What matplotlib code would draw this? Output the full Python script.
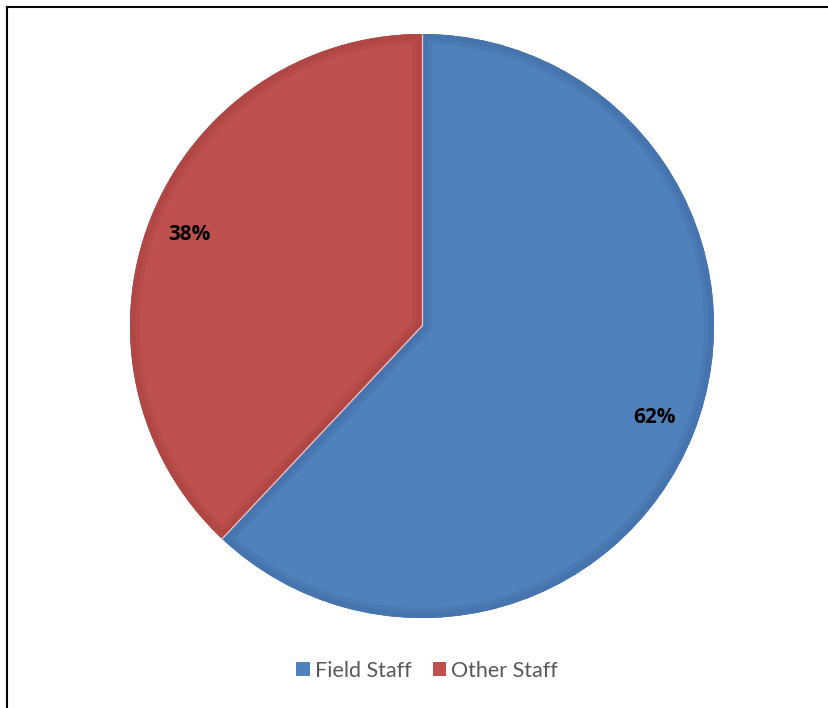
import matplotlib
matplotlib.use("Agg")
import numpy as np
import matplotlib.pyplot as plt
from matplotlib.patches import Patch, Wedge
from matplotlib.lines import Line2D

categories = ["Field Staff", "Other Staff"]
shares = [62, 38]
fill_colors = ["#4F81BD", "#C0504D"]
bevel_colors = ["#4674AE", "#B04744"]

W, H, DPI = 829, 708, 100
fig = plt.figure(figsize=(W / DPI, H / DPI), dpi=DPI)
ax = fig.add_axes([0, 0, 1, 1])

cx, cy, r = 422, H - 326, 292

wedges, texts, autotexts = ax.pie(
    shares, colors=fill_colors, startangle=90, counterclock=False,
    center=(cx, cy), radius=r, autopct="%1.0f%%", pctdistance=0.855,
    wedgeprops=dict(linewidth=0), frame=True,
    textprops=dict(fontsize=15, fontweight="bold", color="black", family="Open Sans"),
)
ax.set_xlim(0, W)
ax.set_ylim(0, H)
ax.set_aspect("equal")
ax.axis("off")

# darker inner bevel band along each slice outline (stroke clipped to the slice)
for w, bc in zip(wedges, bevel_colors):
    for lw, alpha in [(14, 0.55), (8, 1.0)]:
        band = Wedge((cx, cy), r, w.theta1, w.theta2, facecolor="none",
                     edgecolor=bc, linewidth=lw, alpha=alpha, zorder=1.5)
        ax.add_patch(band)
        clip = Wedge((cx, cy), r, w.theta1, w.theta2, transform=ax.transData)
        band.set_clip_path(clip)
        band.set_clip_on(True)

# thin light separators along the slice boundaries
for w in wedges:
    a = np.deg2rad(w.theta1)
    ax.plot([cx, cx + r * np.cos(a)], [cy, cy + r * np.sin(a)],
            color="#F0C8C8", linewidth=0.9, zorder=2, solid_capstyle="butt")

for t in autotexts:
    t.set_zorder(3)

# frame lines on the top and left edges
fig.add_artist(Line2D([7 / W, 7 / W], [0, 1 - 7 / H], transform=fig.transFigure,
                      color="black", linewidth=1.5))
fig.add_artist(Line2D([7 / W, 1], [1 - 7 / H, 1 - 7 / H], transform=fig.transFigure,
                      color="black", linewidth=1.5))

handles = [Patch(facecolor=c, edgecolor="none") for c in fill_colors]
leg = fig.legend(handles, categories, loc="center", bbox_to_anchor=(427 / W, 1 - 671 / H),
                 ncol=2, frameon=False, handlelength=0.62, handleheight=0.62,
                 handletextpad=0.22, columnspacing=1.0,
                 prop=dict(family="Lato", size=15.5))
for t in leg.get_texts():
    t.set_color("#595959")

fig.savefig("out.png", dpi=DPI)
